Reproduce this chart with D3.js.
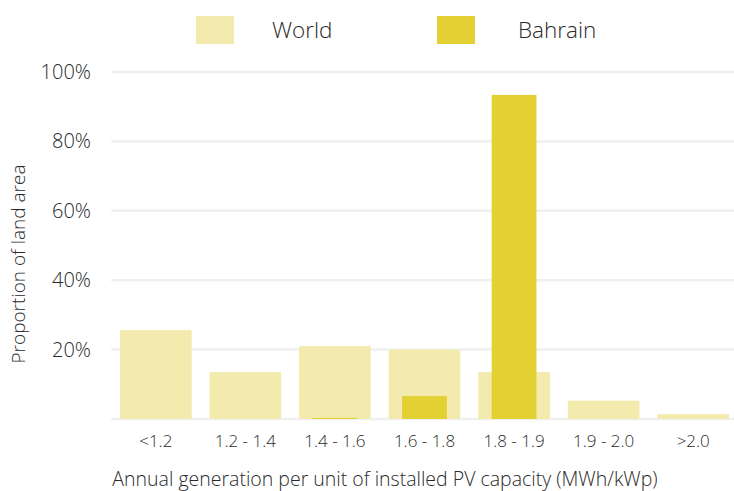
<html>
<meta charset="utf-8" />
<head>
<style>
body { margin: 0; background: #fff; }
svg text {
  font-family: "Open Sans", Lato, sans-serif;
  font-weight: 300;
  fill: #2a2a2a;
}
</style>
<script src="https://d3js.org/d3.v7.min.js" charset="utf-8"></script>
</head>
<body>
<svg class="chart"></svg>
<script>
var chartWidth = 734;
var chartHeight = 491;

// data
var categories = ["<1.2", "1.2 - 1.4", "1.4 - 1.6", "1.6 - 1.8", "1.8 - 1.9", "1.9 - 2.0", ">2.0"];
var worldValues = [25.6, 13.5, 21.0, 20.0, 13.5, 5.3, 1.4];
var bahrainValues = [0, 0, 0.3, 6.6, 93.4, 0, 0];
var yTicks = [0, 20, 40, 60, 80, 100];
var seriesNames = ["World", "Bahrain"];
var seriesColors = ["#f3eaad", "#e3d033"];

var svg = d3.select(".chart")
  .attr("width", chartWidth)
  .attr("height", chartHeight);

var x = d3.scaleBand()
  .domain(categories)
  .range([111, 738])
  .paddingInner(0.2)
  .paddingOuter(0.1);

var y = d3.scaleLinear()
  .domain([0, 100])
  .range([419, 72]);

// gridlines
svg.selectAll("line.grid")
  .data(yTicks)
  .enter().append("line")
  .attr("class", "grid")
  .attr("x1", 111)
  .attr("x2", chartWidth)
  .attr("y1", function(d) { return y(d); })
  .attr("y2", function(d) { return y(d); })
  .attr("stroke", "#f0f0f0")
  .attr("stroke-width", 2.5);

// y labels
svg.selectAll("text.ylab")
  .data(yTicks.filter(function(d) { return d > 0; }))
  .enter().append("text")
  .attr("class", "ylab")
  .attr("x", 91)
  .attr("y", function(d) { return y(d); })
  .attr("dy", "0.35em")
  .attr("text-anchor", "end")
  .style("font-size", "20px")
  .text(function(d) { return d + "%"; });

// world bars
svg.selectAll("rect.world")
  .data(worldValues)
  .enter().append("rect")
  .attr("class", "world")
  .attr("x", function(d, i) { return x(categories[i]); })
  .attr("width", x.bandwidth())
  .attr("y", function(d) { return y(d); })
  .attr("height", function(d) { return y(0) - y(d); })
  .attr("fill", seriesColors[0]);

// bahrain bars (narrower, centred)
var bw = x.step() * 0.5;
svg.selectAll("rect.bahrain")
  .data(bahrainValues)
  .enter().append("rect")
  .attr("class", "bahrain")
  .attr("x", function(d, i) { return x(categories[i]) + x.bandwidth() / 2 - bw / 2; })
  .attr("width", bw)
  .attr("y", function(d) { return y(d); })
  .attr("height", function(d) { return y(0) - y(d); })
  .attr("fill", seriesColors[1]);

// x labels
svg.selectAll("text.xlab")
  .data(categories)
  .enter().append("text")
  .attr("class", "xlab")
  .attr("x", function(d) { return x(d) + x.bandwidth() / 2; })
  .attr("y", 441)
  .attr("dy", "0.35em")
  .attr("text-anchor", "middle")
  .style("font-size", "17px")
  .text(function(d) { return d; });

// axis titles
svg.append("text")
  .attr("x", 385)
  .attr("y", 479)
  .attr("dy", "0.35em")
  .attr("text-anchor", "middle")
  .style("font-size", "19.5px")
  .text("Annual generation per unit of installed PV capacity (MWh/kWp)");

svg.append("text")
  .attr("transform", "translate(18,264) rotate(-90)")
  .attr("dy", "0.35em")
  .attr("text-anchor", "middle")
  .style("font-size", "19px")
  .text("Proportion of land area");

// legend
var legendX = [196, 437];
var legendTextX = [76, 81];
var legend = svg.selectAll("g.legend")
  .data(seriesNames)
  .enter().append("g")
  .attr("class", "legend")
  .attr("transform", function(d, i) { return "translate(" + legendX[i] + ",16)"; });

legend.append("rect")
  .attr("width", 38)
  .attr("height", 28)
  .attr("fill", function(d, i) { return seriesColors[i]; });

legend.append("text")
  .attr("x", function(d, i) { return legendTextX[i]; })
  .attr("y", 14)
  .attr("dy", "0.35em")
  .style("font-size", "22.5px")
  .text(function(d) { return d; });
</script>
</body>
</html>
